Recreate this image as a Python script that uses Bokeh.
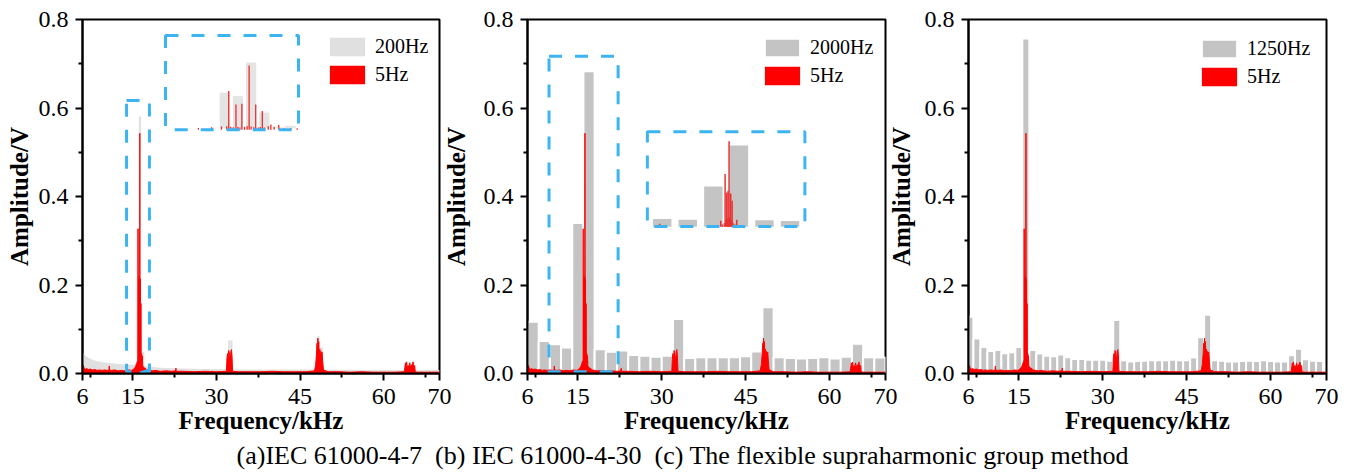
from bokeh.plotting import figure
from bokeh.models import (Range1d, FixedTicker, NumeralTickFormatter, Legend, LegendItem, Div)
from bokeh.layouts import row, column
from bokeh.embed import file_html
from bokeh.resources import INLINE

# ---------------- data ----------------
x_ticks = [6, 15, 30, 45, 60, 70]
x_minor = [7.5, 22.5, 37.5, 52.5, 67.5]
y_ticks = [0.0, 0.2, 0.4, 0.6, 0.8]
y_minor = [0.1, 0.3, 0.5, 0.7]

# 5 Hz resolution spectrum (kHz, V) - shared by all three panels
red_f = [6.0, 6.05, 6.15, 6.3, 6.5, 6.8, 7.0, 7.4, 7.8, 8.2, 8.6, 9.0, 9.5, 10.0, 10.5,
         10.75, 10.8, 10.85, 11.2, 11.8, 12.4, 13.0, 13.6, 14.2, 14.8, 15.2, 15.5, 15.7,
         15.85, 15.93, 15.96, 15.99, 16.03, 16.07, 16.10, 16.13, 16.16, 16.2, 16.24, 16.27,
         16.3, 16.34, 16.37, 16.41, 16.44, 16.47, 16.5, 16.56, 16.6, 16.65, 16.72, 16.8,
         16.9, 17.0, 17.2, 17.6, 18.0, 18.5, 19.0, 20.0, 21.0, 22.0, 22.7, 22.75, 22.8,
         24.0, 26.0, 28.0, 30.0, 31.8, 31.9, 32.0, 32.1, 32.2, 32.3, 32.4, 32.5, 32.6,
         32.7, 32.8, 32.9, 34.0, 36.0, 38.0, 40.0, 42.0, 44.0, 46.0, 47.6, 47.8, 47.95,
         48.05, 48.1, 48.2, 48.28, 48.35, 48.45, 48.55, 48.65, 48.75, 48.85, 48.95, 49.05,
         49.2, 50.0, 52.0, 54.0, 56.0, 58.0, 60.0, 62.0, 63.7, 63.8, 63.9, 64.0, 64.1,
         64.2, 64.35, 64.5, 64.65, 64.8, 64.95, 65.1, 65.25, 65.4, 65.55, 65.65, 66.0,
         68.0, 70.0]
red_a = [0.020, 0.014, 0.018, 0.012, 0.010, 0.011, 0.009, 0.010, 0.008, 0.009, 0.007,
         0.008, 0.007, 0.008, 0.007, 0.008, 0.017, 0.008, 0.007, 0.008, 0.006, 0.007,
         0.006, 0.008, 0.007, 0.010, 0.015, 0.022, 0.028, 0.030, 0.327, 0.025, 0.022,
         0.214, 0.024, 0.020, 0.220, 0.026, 0.030, 0.543, 0.028, 0.022, 0.214, 0.020,
         0.024, 0.158, 0.020, 0.030, 0.045, 0.025, 0.040, 0.018, 0.015, 0.013, 0.012,
         0.008, 0.007, 0.006, 0.007, 0.005, 0.006, 0.005, 0.006, 0.012, 0.005, 0.005,
         0.004, 0.005, 0.004, 0.005, 0.035, 0.045, 0.036, 0.052, 0.048, 0.038, 0.030,
         0.050, 0.054, 0.040, 0.005, 0.004, 0.004, 0.004, 0.005, 0.004, 0.004, 0.004,
         0.006, 0.020, 0.045, 0.068, 0.055, 0.080, 0.050, 0.072, 0.040, 0.055, 0.035,
         0.050, 0.042, 0.048, 0.030, 0.008, 0.004, 0.004, 0.003, 0.004, 0.003, 0.003,
         0.003, 0.004, 0.015, 0.024, 0.016, 0.026, 0.012, 0.018, 0.014, 0.024, 0.012,
         0.020, 0.015, 0.026, 0.013, 0.018, 0.004, 0.003, 0.003, 0.003]

# 200 Hz grouping (panel a): background envelope + distinct bars
g200_env_f = [6.0, 6.2, 6.5, 7.0, 7.5, 8.0, 8.5, 9.0, 9.5, 10.0, 11.0, 12.0, 13.0, 14.0,
              15.0, 17.0, 18.0, 19.0, 20.0, 22.0, 25.0, 28.0, 31.6, 35.0, 40.0, 45.0,
              47.5, 50.0, 55.0, 60.0, 63.5, 66.0, 70.0]
g200_env_a = [0.048, 0.045, 0.040, 0.036, 0.033, 0.030, 0.028, 0.027, 0.026, 0.025,
              0.024, 0.022, 0.021, 0.020, 0.020, 0.017, 0.016, 0.014, 0.013, 0.012,
              0.011, 0.010, 0.010, 0.009, 0.009, 0.009, 0.009, 0.009, 0.008, 0.008,
              0.008, 0.008, 0.008]
g200_bar_f = [15.1, 15.3, 15.5, 15.7, 15.9, 16.1, 16.3, 16.5, 16.7, 16.9,
              32.3, 32.5, 32.7, 48.1, 48.3, 48.5, 48.7, 48.9, 64.1, 64.3, 64.7, 65.3]
g200_bar_a = [0.014, 0.017, 0.022, 0.022, 0.327, 0.298, 0.580, 0.158, 0.034, 0.048,
              0.074, 0.050, 0.074, 0.070, 0.084, 0.060, 0.058, 0.058, 0.028, 0.020,
              0.026, 0.028]

# 2000 Hz grouping (panel b)
g2000_f = [7, 9, 11, 13, 15, 17, 19, 21, 23, 25, 27, 29, 31, 33, 35, 37, 39, 41, 43, 45,
           47, 49, 51, 53, 55, 57, 59, 61, 63, 65, 67, 69]
g2000_a = [0.117, 0.0735, 0.066, 0.059, 0.340, 0.683, 0.055, 0.049, 0.052, 0.042, 0.040,
           0.038, 0.040, 0.123, 0.035, 0.037, 0.037, 0.037, 0.037, 0.039, 0.050, 0.150,
           0.037, 0.035, 0.034, 0.035, 0.037, 0.034, 0.038, 0.067, 0.037, 0.036]

# 1250 Hz flexible supraharmonic groups (panel c)
g1250_f = [6.25, 7.5, 8.75, 10, 11.25, 12.5, 13.75, 15, 16.25, 17.5, 18.75, 20, 21.25,
           22.5, 23.75, 25, 26.25, 27.5, 28.75, 30, 31.25, 32.5, 33.75, 35, 36.25, 37.5,
           38.75, 40, 41.25, 42.5, 43.75, 45, 46.25, 47.5, 48.75, 50, 51.25, 52.5, 53.75,
           55, 56.25, 57.5, 58.75, 60, 61.25, 62.5, 63.75, 65, 66.25, 67.5, 68.75]
g1250_a = [0.128, 0.079, 0.060, 0.051, 0.053, 0.046, 0.048, 0.060, 0.757, 0.053, 0.045,
           0.040, 0.039, 0.043, 0.037, 0.033, 0.033, 0.031, 0.031, 0.031, 0.029, 0.121,
           0.030, 0.027, 0.028, 0.029, 0.030, 0.030, 0.030, 0.031, 0.030, 0.030, 0.036,
           0.082, 0.133, 0.030, 0.029, 0.027, 0.027, 0.028, 0.029, 0.028, 0.030, 0.028,
           0.027, 0.027, 0.041, 0.056, 0.032, 0.029, 0.028]

# red spectrum as shown inside the zoomed inset of panel b
inset_b_red_f = [10.8, 15.58, 15.7, 15.85, 15.92, 15.98, 16.05, 16.1, 16.15, 16.19,
                 16.23, 16.28, 16.36, 16.42, 16.47, 16.55, 16.7, 16.83]
inset_b_red_a = [0.025, 0.05, 0.02, 0.03, 0.444, 0.06, 0.289, 0.07, 0.303, 0.08, 0.719,
                 0.07, 0.281, 0.05, 0.219, 0.03, 0.02, 0.059]

labels = ["200Hz", "2000Hz", "1250Hz"]
caption = ("(a)IEC 61000-4-7\u00a0\u00a0(b) IEC 61000-4-30\u00a0\u00a0"
           "(c) The flexible supraharmonic group method")

# ---------------- style / layout constants ----------------
RED = "#ff0000"
GREY_A = "#e0e0e0"
GREY_B = "#c4c4c4"
BLUE = "#3db4f2"
FONT = "Liberation Serif"


def make_fig(width, bl, br, ylab_standoff):
    p = figure(width=width, height=438, x_range=Range1d(6, 70), y_range=Range1d(0, 0.8),
               output_backend="svg", toolbar_location=None,
               min_border_left=bl, min_border_right=br, min_border_top=19,
               min_border_bottom=65)
    p.xgrid.visible = False
    p.ygrid.visible = False
    p.outline_line_color = "black"
    p.outline_line_width = 2
    p.outline_line_alpha = 1
    p.background_fill_color = "white"
    p.border_fill_alpha = 0
    for ax in (p.xaxis[0], p.yaxis[0]):
        ax.axis_line_width = 2
        ax.major_tick_line_width = 2
        ax.minor_tick_line_width = 2
        ax.major_tick_out = 7
        ax.major_tick_in = 0
        ax.minor_tick_out = 4
        ax.minor_tick_in = 0
        ax.major_label_text_font = FONT
        ax.major_label_text_font_size = "24px"
        ax.major_label_text_color = "black"
        ax.axis_label_text_font = FONT
        ax.axis_label_text_font_size = "25px"
        ax.axis_label_text_font_style = "bold"
        ax.axis_label_text_color = "black"
    p.xaxis.major_label_standoff = 8
    p.xaxis.axis_label_standoff = 0
    p.yaxis.major_label_standoff = 7
    p.yaxis.axis_label_standoff = ylab_standoff
    p.xaxis.ticker = FixedTicker(ticks=x_ticks, minor_ticks=x_minor)
    p.yaxis.ticker = FixedTicker(ticks=y_ticks, minor_ticks=y_minor)
    p.yaxis.formatter = NumeralTickFormatter(format="0.0")
    p.xaxis.axis_label = "Frequency/kHz"
    p.yaxis.axis_label = "Amplitude/V"
    return p


def inset_range(lo, hi, m0, m1, i0, i1):
    s = (i1 - i0) / (m1 - m0)
    return Range1d(i0 - (m0 - lo) * s, i0 + (hi - m0) * s)


def add_red(p):
    ar = p.varea(x=red_f, y1=0, y2=red_a, fill_color=RED)
    p.line(red_f, red_a, line_color=RED, line_width=1)
    return ar


def add_legend(p, grey_r, red_r, label, vx, vy):
    leg = Legend(items=[LegendItem(label=label, renderers=[grey_r]),
                        LegendItem(label="5Hz", renderers=[red_r])],
                 location=(vx, vy), border_line_alpha=0, background_fill_alpha=0,
                 glyph_width=44, glyph_height=23, spacing=5, padding=0, margin=0,
                 label_standoff=6, label_text_font=FONT, label_text_font_size="20px",
                 label_text_color="black")
    p.add_layout(leg)


def dashed_box(p, l, r, b, t):
    p.quad(left=[l], right=[r], bottom=[b], top=[t], fill_alpha=0, line_color=BLUE,
           line_width=3, line_dash="13 13")


# ---------------- panel (a) ----------------
pa = make_fig(452, 82, 13, 3)
ga = pa.varea(x=g200_env_f, y1=0, y2=g200_env_a, fill_color=GREY_A)
pa.vbar(x=g200_bar_f, top=g200_bar_a, width=0.2, fill_color=GREY_A, line_color=GREY_A)
ra = add_red(pa)
# inset (a): zoom of 15-17 kHz
ia_sel = [i for i, f in enumerate(g200_bar_f) if 15 <= f <= 17]
ra_sel = [i for i, f in enumerate(red_f) if 15 <= f <= 17]
pa.extra_x_ranges = {"ix": inset_range(6, 70, 20.88, 44.49, 15.0, 17.0)}
pa.extra_y_ranges = {"iy": inset_range(0, 0.8, 0.5507, 0.706, 0.0, 0.58)}
pa.vbar(x=[g200_bar_f[i] for i in ia_sel], top=[g200_bar_a[i] for i in ia_sel], width=0.2,
        fill_color="#e4e4e4", line_color="white", line_width=3,
        x_range_name="ix", y_range_name="iy")
ra_x = [red_f[i] for i in ra_sel]
pa.segment(x0=ra_x, y0=[0] * len(ra_x), x1=ra_x, y1=[red_a[i] for i in ra_sel],
           line_color="#ee2a2a", line_width=1.3, x_range_name="ix", y_range_name="iy")
dashed_box(pa, 13.9, 18.0, 0.004, 0.617)
dashed_box(pa, 20.88, 44.72, 0.551, 0.764)
pa.segment(x0=[16.28], y0=[0.0005], x1=[18.2], y1=[0.0095], line_color=BLUE, line_width=3)
add_legend(pa, ga, ra, labels[0], 243, 287)

# ---------------- panel (b) ----------------
pb = make_fig(465, 95, 12, 11)
pb.margin = (0, 0, 0, -20)
gb = pb.vbar(x=g2000_f, top=g2000_a, width=2.0, fill_color=GREY_B, line_color="white",
             line_width=2)
rb = add_red(pb)
ib_sel = [i for i, f in enumerate(g2000_f) if 10 <= f <= 22]
pb.extra_x_ranges = {"ix": inset_range(6, 70, 27.80, 55.22, 10.0, 22.0)}
pb.extra_y_ranges = {"iy": inset_range(0, 0.8, 0.3315, 0.5465, 0.0, 0.8)}
pb.vbar(x=[g2000_f[i] for i in ib_sel], top=[g2000_a[i] for i in ib_sel], width=1.44,
        fill_color=GREY_B, line_color=None, x_range_name="ix", y_range_name="iy")
pb.segment(x0=inset_b_red_f, y0=[0] * len(inset_b_red_f), x1=inset_b_red_f,
           y1=inset_b_red_a, line_color="#e83232", line_width=1.5,
           x_range_name="ix", y_range_name="iy")
dashed_box(pb, 9.85, 22.2, 0.004, 0.717)
dashed_box(pb, 27.43, 55.59, 0.332, 0.5465)
add_legend(pb, gb, rb, labels[1], 233, 286)

# ---------------- panel (c) ----------------
pc = make_fig(480, 93, 29, 7)
pc.margin = (0, 0, 0, -22)
gc = pc.vbar(x=g1250_f, top=g1250_a, width=1.25, fill_color=GREY_B, line_color="white",
             line_width=2)
rc = add_red(pc)
add_legend(pc, gc, rc, labels[2], 229, 285)

cap = Div(text='<div style="width:1355px;text-align:center;font-family:\'Liberation Serif\';'
               'font-size:26px;color:black;white-space:nowrap;margin-top:-6px;">'
               + caption + '</div>',
          width=1355, height=36)

layout = column(row(pa, pb, pc), cap)
open("out.html", "w").write(file_html(layout, INLINE))
